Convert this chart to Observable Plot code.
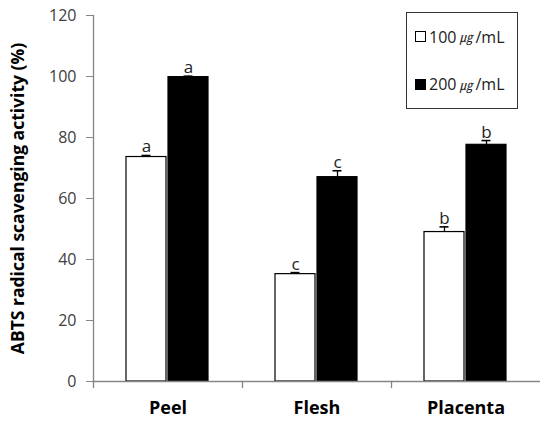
<!DOCTYPE html>
<html><head><meta charset="utf-8">
<script src="https://cdn.jsdelivr.net/npm/d3@7"></script>
<script src="https://cdn.jsdelivr.net/npm/@observablehq/plot@0.6"></script>
<style>
body{margin:0;background:#fff;font-family:"Open Sans",sans-serif;}
#wrap{position:relative;width:540px;height:426px;}
#legend{position:absolute;left:406px;top:12px;width:110px;height:95px;border:1.3px solid #333;background:#fff;box-sizing:content-box;display:flex;flex-direction:column;justify-content:space-around;padding:0;}
.item{display:flex;align-items:center;font-size:16px;color:#222;padding-left:8px;height:20px;white-space:nowrap;}
.sw{width:11px;height:11px;box-sizing:border-box;border:1px solid #000;margin-right:3px;}
.kr{font-family:"Noto Sans CJK KR";font-size:13px;font-style:italic;margin:0 3px 0 3px;}
</style>
</head><body>
<div id="wrap"></div>
<script>
const categories = ["Peel", "Flesh", "Placenta"];
const doses = ["100㎍/mL", "200㎍/mL"];
const values100 = [73.6, 35.2, 49.0];
const values200 = [99.8, 67.0, 77.6];
const err100 = [0.5, 0.5, 1.7];
const err200 = [0.3, 2.1, 1.4];
const letters100 = ["a", "c", "b"];
const letters200 = ["a", "c", "b"];
const yTicks = [0, 20, 40, 60, 80, 100, 120];
const yLabel = "ABTS radical scavenging activity (%)";
const doseColors = ["white", "black"];

const rows = [];
categories.forEach((c, i) => {
  rows.push({cat: c, dose: doses[0], value: values100[i], err: err100[i], letter: letters100[i]});
  rows.push({cat: c, dose: doses[1], value: values200[i], err: err200[i], letter: letters200[i]});
});

const W = 540, H = 426, mT = 15, mB = 45, mL = 93, mR = 0;
const frameH = H - mT - mB;
const axisColor = "#868686";

const chart = Plot.plot({
  width: W, height: H,
  marginTop: mT, marginBottom: mB, marginLeft: mL, marginRight: mR,
  style: {fontFamily: "'Open Sans', sans-serif", background: "white"},
  fx: {domain: categories, padding: 0, label: null},
  x: {domain: doses, axis: null, paddingInner: 0.0465, paddingOuter: 0.767},
  y: {domain: [0, 120]},
  color: {domain: doses, range: doseColors},
  marks: [
    Plot.frame({anchor: "left", facetAnchor: "left", stroke: axisColor, strokeWidth: 1.3}),
    Plot.frame({anchor: "left", stroke: axisColor, strokeWidth: 1.3, insetTop: frameH, insetBottom: -6}),
    Plot.axisY({ticks: yTicks, tickSize: 7, tickPadding: 10, stroke: axisColor, fill: "#404040", fontSize: 16, label: null}),
    Plot.axisFx({anchor: "bottom", tickSize: 0, tickPadding: 20, fontSize: 18, fontWeight: "bold", fill: "black", label: null}),
    Plot.text([yLabel], {text: d => d, frameAnchor: "left", textAnchor: "middle", rotate: -90, dx: -75, fontSize: 17.5, fontWeight: "bold", fill: "black", facetAnchor: "left"}),
    Plot.barY(rows, {fx: "cat", x: "dose", y: "value", fill: "dose", stroke: "black", strokeWidth: 1.2}),
    Plot.ruleX(rows, {fx: "cat", x: "dose", y1: "value", y2: d => d.value + d.err, stroke: "black", strokeWidth: 1.3}),
    Plot.tickY(rows, {fx: "cat", x: "dose", y: d => d.value + d.err, stroke: "black", strokeWidth: 1.6, insetLeft: 15.5, insetRight: 15.5}),
    Plot.text(rows, {fx: "cat", x: "dose", y: d => d.value + d.err, text: "letter", dy: -3, lineAnchor: "bottom", fontSize: 17, fill: "#222"}),
    Plot.ruleY([0], {stroke: axisColor, strokeWidth: 1.3})
  ]
});

const wrap = document.getElementById("wrap");
wrap.appendChild(chart);

const legend = document.createElement("div");
legend.id = "legend";
doses.forEach((d, i) => {
  const item = document.createElement("div");
  item.className = "item";
  const sw = document.createElement("span");
  sw.className = "sw";
  sw.style.background = doseColors[i];
  item.appendChild(sw);
  const m = d.match(/^(\d+)(㎍)(\/mL)$/);
  const t1 = document.createElement("span"); t1.textContent = m[1];
  const t2 = document.createElement("span"); t2.textContent = m[2]; t2.className = "kr";
  const t3 = document.createElement("span"); t3.textContent = m[3];
  item.append(t1, t2, t3);
  legend.appendChild(item);
});
wrap.appendChild(legend);
</script>
</body></html>
